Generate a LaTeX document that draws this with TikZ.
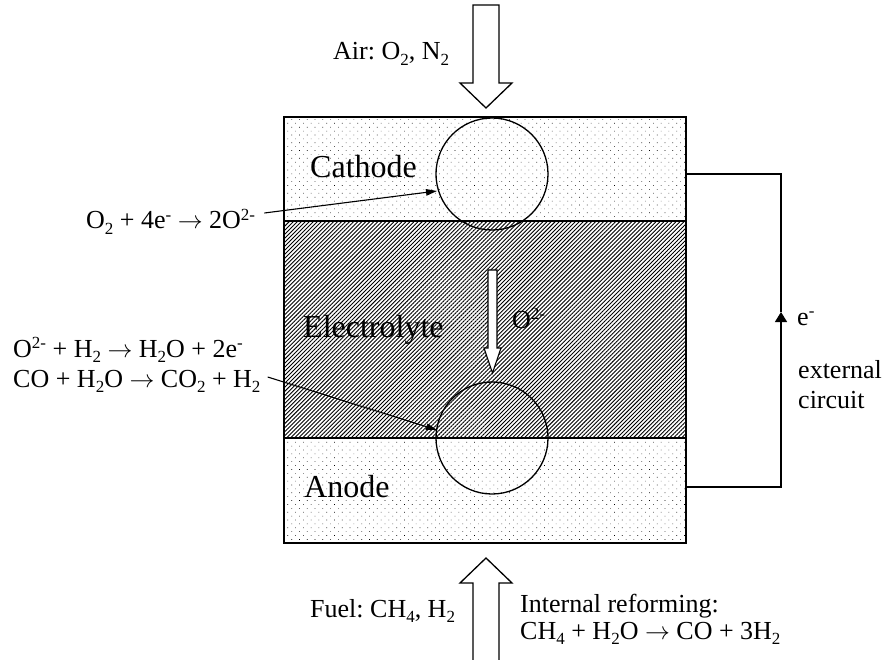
\documentclass[tikz,border=0pt]{standalone}
\usepackage{fontspec}
\setmainfont{Liberation Serif}
\usetikzlibrary{arrows.meta,patterns.meta}
\frenchspacing
\newcommand{\lo}[1]{\raisebox{-5.5pt}{\fontsize{17}{17}\selectfont #1}}
\newcommand{\hi}[1]{\raisebox{8.5pt}{\fontsize{17}{17}\selectfont #1}}
\newcommand{\ra}{\ensuremath{\rightarrow}}
\tikzset{
  lbl/.style={anchor=base west, inner sep=0pt, font=\fontsize{26}{30}\selectfont},
  lbltwo/.style={anchor=base west, inner sep=0pt, align=left, font=\fontsize{26}{26}\selectfont},
  big/.style={anchor=base west, inner sep=0pt, font=\fontsize{32}{36}\selectfont},
  dotfill/.style={pattern={Dots[distance=5.5pt,angle=45,radius=0.45pt]}},
  hatchfill/.style={pattern={Lines[angle=45,distance=2.85pt,line width=0.9pt]}},
  outline/.style={line width=1.3pt},
  blockarrow/.style={draw, line width=1.3pt, fill=white, line join=miter},
  ptr/.style={line width=1.1pt, -{Triangle[length=11pt,width=6.5pt]}},
  circarrow/.style={line width=1.3pt, -{Triangle[length=10pt,width=12pt]}},
}
\begin{document}
\begin{tikzpicture}[x=1pt,y=-1pt]
\useasboundingbox[fill=white] (0,0) rectangle (890,660);
% layers
\path[dotfill] (284,117) rectangle (686,221);
\path[hatchfill] (284,221) rectangle (686,438);
\path[dotfill] (284,438) rectangle (686,543);
\draw[outline] (284,221) -- (686,221);
\draw[outline] (284,438) -- (686,438);
\draw[outline] (284,117) rectangle (686,543);
% circles
\draw[outline] (492,174) circle (56);
\draw[outline] (492,438) circle (56);
% air arrow
\draw[blockarrow] (473,5) -- (499,5) -- (499,83) -- (512,83) -- (486,108) -- (460,83) -- (473,83) -- cycle;
% fuel arrow
\fill[white] (473,661) -- (473,583) -- (460,583) -- (486,558) -- (512,583) -- (499,583) -- (499,661) -- cycle;
\draw[line width=1.3pt] (473,661) -- (473,583) -- (460,583) -- (486,558) -- (512,583) -- (499,583) -- (499,661);
% O2- arrow
\draw[blockarrow, line width=1.1pt] (488,270) -- (497,270) -- (497,348) -- (501,348) -- (492.5,373) -- (484,348) -- (488,348) -- cycle;
% labels
\node[lbl] (air) at (333,60) {Air: O\lo{2}, N\lo{2}};
\node[big] (cathode) at (310,178) {Cathode};
\node[big] (electrolyte) at (303,337) {Electrolyte};
\node[big] (anode) at (304,497) {Anode};
\node[lbl] (oion) at (512,328) {O\hi{2-}};
\node[lbl] (eminus) at (797,325) {e\hi{-}};
\node[lbl] (ext) at (798,378) {external};
\node[lbl] (circ) at (798,408) {circuit};
\node[lbl] (rcath) at (86,229) {O\lo{2} + 4e\hi{-} \ra{} 2O\hi{2-}};
\node[lbl] (ran1) at (13,357) {O\hi{2-} + H\lo{2} \ra{} H\lo{2}O + 2e\hi{-}};
\node[lbl] (ran2) at (13,387) {CO + H\lo{2}O \ra{} CO\lo{2} + H\lo{2}};
\node[lbl] (fuel) at (310,617) {Fuel: CH\lo{4}, H\lo{2}};
\node[lbltwo] (ref) at (520,639) {Internal reforming:\\[1pt]CH\lo{4} + H\lo{2}O \ra{} CO + 3H\lo{2}};
% pointers
\coordinate (tcath) at (437,191);
\coordinate (tan) at (437,430);
\draw[ptr] ([xshift=9pt,yshift=16pt]rcath.base east) -- (tcath);
\draw[ptr] ([xshift=7pt,yshift=10pt]ran2.base east) -- (tan);
% external circuit
\coordinate (c1) at (686,174);
\coordinate (c2) at (781,174);
\coordinate (c3) at (781,487);
\coordinate (c4) at (686,487);
\coordinate (cm) at (781,312);
\draw[line width=1.3pt] (cm) -- (c2) -- (c1);
\draw[circarrow] (c4) -- (c3) -- (cm);
\end{tikzpicture}
\end{document}
